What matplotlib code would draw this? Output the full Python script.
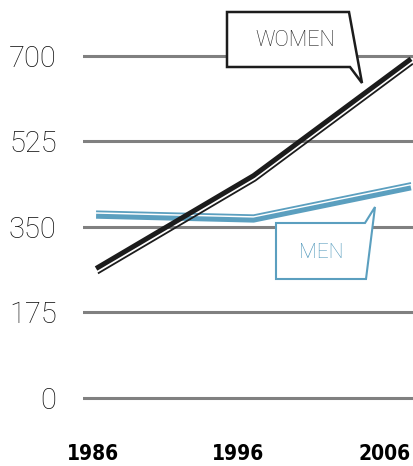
import matplotlib.pyplot as plt
from matplotlib.patches import Polygon
from matplotlib.transforms import ScaledTranslation

years = [1986, 1996, 2006]
women = [265, 455, 694]
men = [372, 364, 430]
yticks = [0, 175, 350, 525, 700]

W, H = 414, 466
fig = plt.figure(figsize=(W / 100, H / 100), dpi=100)
ax = fig.add_axes([83 / W, 46 / H, 1 - 83 / W, 410 / H])

ax.set_xlim(1985.17, 2006.19)
ax.set_ylim(-45, 794)

for y in yticks:
    ax.axhline(y, color="#808080", lw=2.2, zorder=1)

black = "#1c1c1c"
blue = "#5b9fbf"
light = ["Roboto", "DejaVu Sans"]

# double-line look: a thick line with a thin one shifted a few pixels
ax.plot(years, women, color=black, lw=3.6, solid_capstyle="butt", zorder=4)
ax.plot([y + 0.12 for y in years], [v - 10 for v in women], color=black, lw=1.3,
        solid_capstyle="butt", zorder=4)
ax.plot(years, men, color=blue, lw=3.6, solid_capstyle="butt", zorder=3)
ax.plot(years, [v + 10 for v in men], color=blue, lw=1.3, solid_capstyle="butt", zorder=3)

ax.set_yticks(yticks)
ax.set_yticklabels([str(v) for v in yticks], fontsize=21, color="#111111",
                   family=light, fontweight="light")
ax.set_xticks(years)
ax.set_xticklabels([str(y) for y in years], fontsize=15, fontweight="heavy",
                   family="DejaVu Sans", fontstretch="condensed", color="#000000")
ax.tick_params(axis="y", length=0, pad=19)
ax.tick_params(axis="x", length=0, pad=32)
shifts = [-3, -15, 0]
for lbl, dx in zip(ax.get_xticklabels(), shifts):
    lbl.set_va("bottom")
    lbl.set_transform(lbl.get_transform() + ScaledTranslation(dx / 100, 0, fig.dpi_scale_trans))
ax.get_xticklabels()[-1].set_ha("right")
for s in ax.spines.values():
    s.set_visible(False)


def px(pts):
    return [(x / W, 1 - y / H) for x, y in pts]


women_box = px([(227, 12), (349, 12), (362, 83), (350, 67), (227, 67)])
fig.patches.append(Polygon(women_box, closed=True, fc="white", ec=black, lw=1.8,
                           transform=fig.transFigure, zorder=5))
fig.text(295 / W, 1 - 41 / H, "WOMEN", ha="center", va="center", fontsize=15.5,
         color="#222222", family=light, fontweight="light", zorder=6)

men_box = px([(276, 223), (365, 223), (375, 207), (366, 279), (276, 279)])
fig.patches.append(Polygon(men_box, closed=True, fc="white", ec=blue, lw=1.5,
                           transform=fig.transFigure, zorder=5))
fig.text(321 / W, 1 - 253 / H, "MEN", ha="center", va="center", fontsize=15,
         color="#4f97ba", family=light, fontweight="light", zorder=6)

fig.savefig("out.png", dpi=100)
